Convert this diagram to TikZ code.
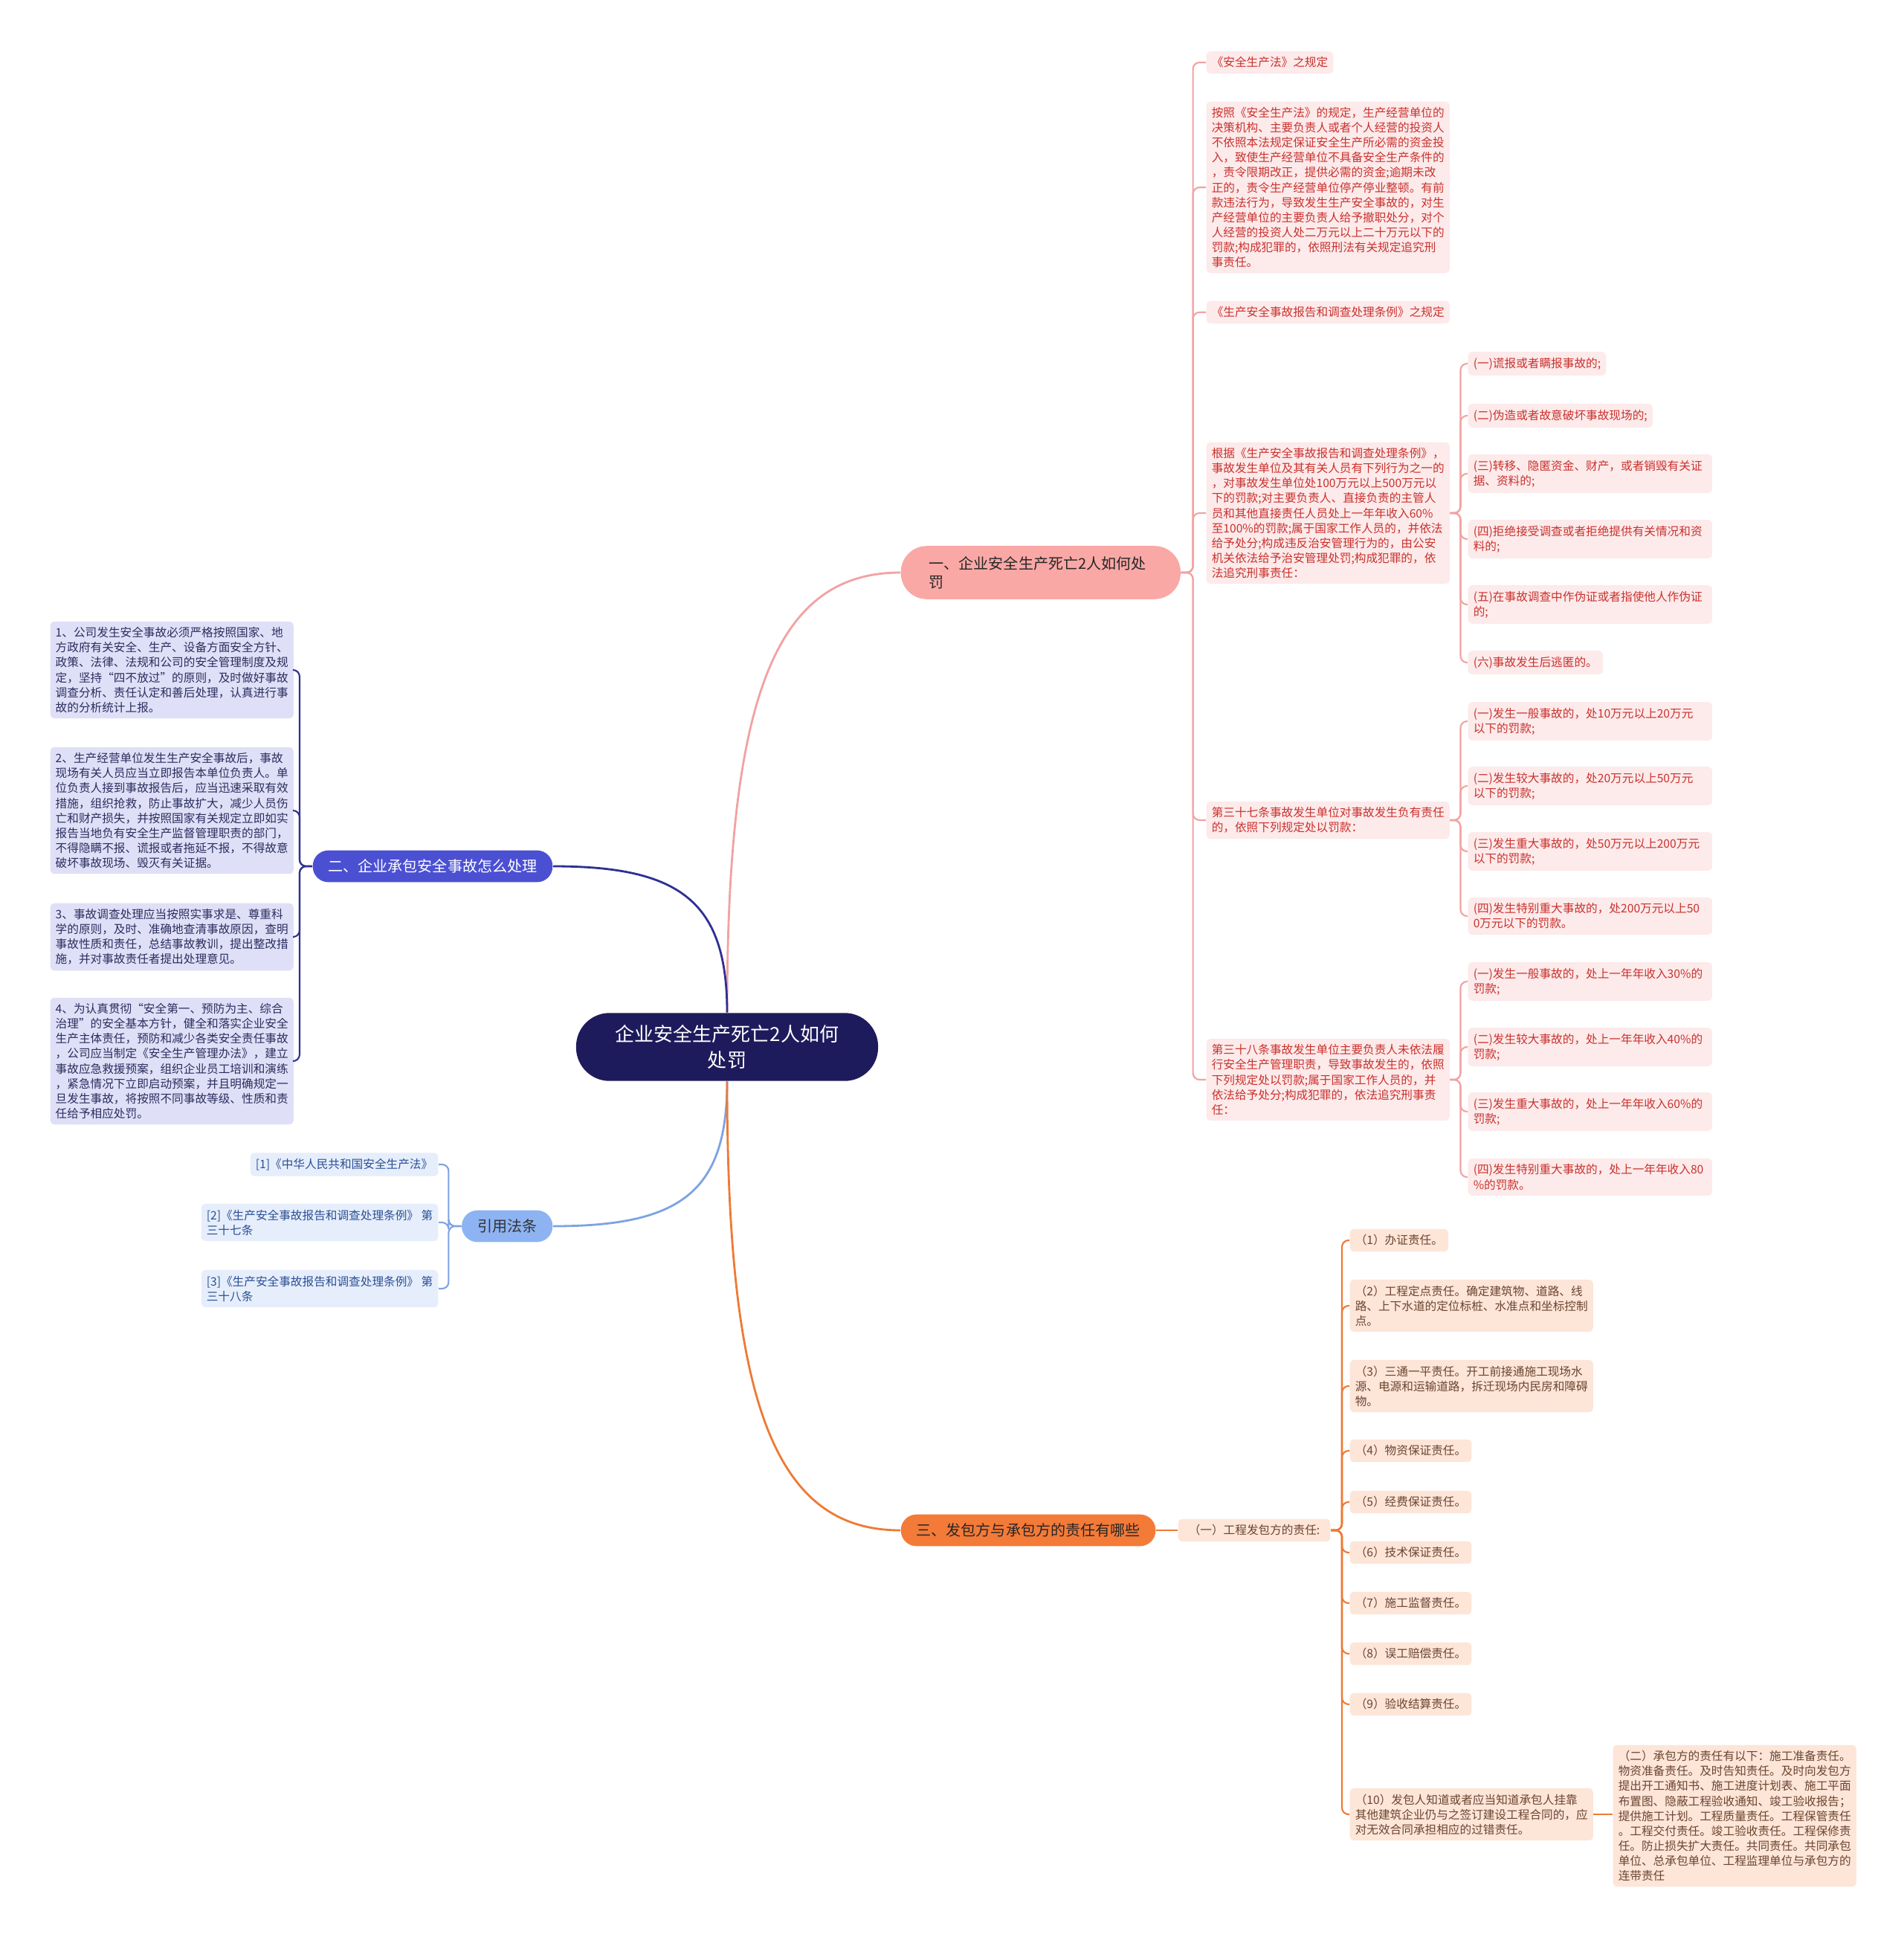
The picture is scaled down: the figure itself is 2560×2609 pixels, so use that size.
\documentclass[tikz,border=0pt]{standalone}
\usepackage{fontspec}
\setmainfont{Noto Sans CJK SC}
\usepackage{tikz}
\usetikzlibrary{positioning}
\definecolor{ctrfill}{HTML}{1E1B5C}
\definecolor{pinkmain}{HTML}{F9A8A6}
\definecolor{pinkline}{HTML}{F2A2A2}
\definecolor{pinkfill}{HTML}{FDEAEA}
\definecolor{pinktext}{HTML}{C8322E}
\definecolor{bluemain}{HTML}{4B50D3}
\definecolor{blueline}{HTML}{2E3192}
\definecolor{bluefill}{HTML}{DFE0F7}
\definecolor{bluetext}{HTML}{2B2D5E}
\definecolor{refmain}{HTML}{8DB3F2}
\definecolor{refline}{HTML}{7DA3E3}
\definecolor{reffill}{HTML}{E6EEFC}
\definecolor{reftext}{HTML}{2B4F94}
\definecolor{orgmain}{HTML}{F47A38}
\definecolor{orgline}{HTML}{EE7A35}
\definecolor{orgfill}{HTML}{FDE5D8}
\definecolor{orgtext}{HTML}{6B4530}

\begin{document}
\begin{tikzpicture}[
    x=0.01cm, y=-0.01cm,
    leaf/.style={rectangle, rounded corners=1.5pt, inner xsep=2pt, inner ysep=2.2pt, align=left, font=\fontsize{4.45pt}{5.7pt}\selectfont},
    pinkleaf/.style={leaf, fill=pinkfill, text=pinktext, anchor=west},
    pinkwide/.style={pinkleaf, text width=3.14cm},
    blueleaf/.style={leaf, fill=bluefill, text=bluetext, anchor=west},
    refleaf/.style={leaf, fill=reffill, text=reftext, anchor=east},
    orgleaf/.style={leaf, fill=orgfill, text=orgtext, anchor=west},
    branch/.style={rectangle, rounded corners=0.21cm, inner xsep=0.21cm, inner ysep=0.12cm, font=\fontsize{5.7pt}{7.1pt}\selectfont},
    link/.style={line width=0.8pt},
    bracket/.style={line width=0.6pt, rounded corners=2.5pt}
]
    \path[fill=white] (0,0) rectangle (2560,2609);
    \useasboundingbox (0,0) rectangle (2560,2609);

    % 中心主题
    \node[rectangle, rounded corners=0.45cm, fill=ctrfill, text=white, align=center, text width=3.1cm,
          inner xsep=0.48cm, inner ysep=0.16cm, font=\fontsize{7.4pt}{10pt}\selectfont] (ctr) at (978,1408)
          {企业安全生产死亡2人如何\\处罚};

    % 一级分支
    \node[branch, fill=pinkmain, text=black!85, anchor=west, text width=3cm, align=left,
          inner xsep=0.38cm, inner ysep=0.14cm, rounded corners=0.35cm] (b1) at (1211,770)
          {一、企业安全生产死亡2人如何处\\罚};
    \node[branch, fill=bluemain, text=white, anchor=east] (b2) at (744,1165) {二、企业承包安全事故怎么处理};
    \node[branch, fill=refmain, text=black!80, anchor=east] (refn) at (744,1649) {引用法条};
    \node[branch, fill=orgmain, text=black!85, anchor=west] (b3) at (1211,2058) {三、发包方与承包方的责任有哪些};

    \draw[link, pinkline] (ctr.north) .. controls +(0,-420) and +(-170,0) .. (b1.west);
    \draw[link, blueline] (ctr.north) .. controls +(0,-150) and +(170,0) .. (b2.east);
    \draw[link, refline] (ctr.south) .. controls +(0,150) and +(170,0) .. (refn.east);
    \draw[link, orgline] (ctr.south) .. controls +(0,430) and +(-170,0) .. (b3.west);

    % 一、处罚规定
    \node[pinkleaf] (c1) at (1622,84) {《安全生产法》之规定};
    \node[pinkleaf] (c2) at (1622,252) {按照《安全生产法》的规定，生产经营单位的\\决策机构、主要负责人或者个人经营的投资人\\不依照本法规定保证安全生产所必需的资金投\\入，致使生产经营单位不具备安全生产条件的\\，责令限期改正，提供必需的资金;逾期未改\\正的，责令生产经营单位停产停业整顿。有前\\款违法行为，导致发生生产安全事故的，对生\\产经营单位的主要负责人给予撤职处分，对个\\人经营的投资人处二万元以上二十万元以下的\\罚款;构成犯罪的，依照刑法有关规定追究刑\\事责任。};
    \node[pinkleaf] (c3) at (1622,420) {《生产安全事故报告和调查处理条例》之规定};
    \node[pinkleaf] (c4) at (1622,690) {根据《生产安全事故报告和调查处理条例》，\\事故发生单位及其有关人员有下列行为之一的\\，对事故发生单位处100万元以上500万元以\\下的罚款;对主要负责人、直接负责的主管人\\员和其他直接责任人员处上一年年收入60\%\\至100\%的罚款;属于国家工作人员的，并依法\\给予处分;构成违反治安管理行为的，由公安\\机关依法给予治安管理处罚;构成犯罪的，依\\法追究刑事责任：};
    \node[pinkleaf] (c5) at (1622,1103) {第三十七条事故发生单位对事故发生负有责任\\的，依照下列规定处以罚款：};
    \node[pinkleaf] (c6) at (1622,1452) {第三十八条事故发生单位主要负责人未依法履\\行安全生产管理职责，导致事故发生的，依照\\下列规定处以罚款;属于国家工作人员的，并\\依法给予处分;构成犯罪的，依法追究刑事责\\任：};

    \node[pinkleaf] (k1) at (1974,489) {(一)谎报或者瞒报事故的;};
    \node[pinkleaf] (k2) at (1974,559) {(二)伪造或者故意破坏事故现场的;};
    \node[pinkwide] (k3) at (1974,637) {(三)转移、隐匿资金、财产，或者销毁有关证\\据、资料的;};
    \node[pinkwide] (k4) at (1974,725) {(四)拒绝接受调查或者拒绝提供有关情况和资\\料的;};
    \node[pinkwide] (k5) at (1974,813) {(五)在事故调查中作伪证或者指使他人作伪证\\的;};
    \node[pinkleaf] (k6) at (1974,891) {(六)事故发生后逃匿的。};

    \node[pinkwide] (m1) at (1974,970) {(一)发生一般事故的，处10万元以上20万元\\以下的罚款;};
    \node[pinkwide] (m2) at (1974,1057) {(二)发生较大事故的，处20万元以上50万元\\以下的罚款;};
    \node[pinkwide] (m3) at (1974,1145) {(三)发生重大事故的，处50万元以上200万元\\以下的罚款;};
    \node[pinkwide] (m4) at (1974,1232) {(四)发生特别重大事故的，处200万元以上50\\0万元以下的罚款。};

    \node[pinkwide] (n1) at (1974,1320) {(一)发生一般事故的，处上一年年收入30\%的\\罚款;};
    \node[pinkwide] (n2) at (1974,1408) {(二)发生较大事故的，处上一年年收入40\%的\\罚款;};
    \node[pinkwide] (n3) at (1974,1495) {(三)发生重大事故的，处上一年年收入60\%的\\罚款;};
    \node[pinkwide] (n4) at (1974,1583) {(四)发生特别重大事故的，处上一年年收入80\\\%的罚款。};

    \draw[bracket, pinkline] (b1.east) -- ++(16,0) |- (c1.west);
    \draw[bracket, pinkline] (b1.east) -- ++(16,0) |- (c2.west);
    \draw[bracket, pinkline] (b1.east) -- ++(16,0) |- (c3.west);
    \draw[bracket, pinkline] (b1.east) -- ++(16,0) |- (c4.west);
    \draw[bracket, pinkline] (b1.east) -- ++(16,0) |- (c5.west);
    \draw[bracket, pinkline] (b1.east) -- ++(16,0) |- (c6.west);
    \draw[bracket, pinkline] (c4.east) -- ++(14,0) |- (k1.west);
    \draw[bracket, pinkline] (c4.east) -- ++(14,0) |- (k2.west);
    \draw[bracket, pinkline] (c4.east) -- ++(14,0) |- (k3.west);
    \draw[bracket, pinkline] (c4.east) -- ++(14,0) |- (k4.west);
    \draw[bracket, pinkline] (c4.east) -- ++(14,0) |- (k5.west);
    \draw[bracket, pinkline] (c4.east) -- ++(14,0) |- (k6.west);
    \draw[bracket, pinkline] (c5.east) -- ++(14,0) |- (m1.west);
    \draw[bracket, pinkline] (c5.east) -- ++(14,0) |- (m2.west);
    \draw[bracket, pinkline] (c5.east) -- ++(14,0) |- (m3.west);
    \draw[bracket, pinkline] (c5.east) -- ++(14,0) |- (m4.west);
    \draw[bracket, pinkline] (c6.east) -- ++(14,0) |- (n1.west);
    \draw[bracket, pinkline] (c6.east) -- ++(14,0) |- (n2.west);
    \draw[bracket, pinkline] (c6.east) -- ++(14,0) |- (n3.west);
    \draw[bracket, pinkline] (c6.east) -- ++(14,0) |- (n4.west);

    % 二、事故处理
    \node[blueleaf] (l1) at (67,901) {1、公司发生安全事故必须严格按照国家、地\\方政府有关安全、生产、设备方面安全方针、\\政策、法律、法规和公司的安全管理制度及规\\定，坚持“四不放过”的原则，及时做好事故\\调查分析、责任认定和善后处理，认真进行事\\故的分析统计上报。};
    \node[blueleaf] (l2) at (67,1090) {2、生产经营单位发生生产安全事故后，事故\\现场有关人员应当立即报告本单位负责人。单\\位负责人接到事故报告后，应当迅速采取有效\\措施，组织抢救，防止事故扩大，减少人员伤\\亡和财产损失，并按照国家有关规定立即如实\\报告当地负有安全生产监督管理职责的部门，\\不得隐瞒不报、谎报或者拖延不报，不得故意\\破坏事故现场、毁灭有关证据。};
    \node[blueleaf] (l3) at (67,1260) {3、事故调查处理应当按照实事求是、尊重科\\学的原则，及时、准确地查清事故原因，查明\\事故性质和责任，总结事故教训，提出整改措\\施，并对事故责任者提出处理意见。};
    \node[blueleaf] (l4) at (67,1427) {4、为认真贯彻“安全第一、预防为主、综合\\治理”的安全基本方针，健全和落实企业安全\\生产主体责任，预防和减少各类安全责任事故\\，公司应当制定《安全生产管理办法》，建立\\事故应急救援预案，组织企业员工培训和演练\\，紧急情况下立即启动预案，并且明确规定一\\旦发生事故，将按照不同事故等级、性质和责\\任给予相应处罚。};

    \draw[bracket, blueline] (b2.west) -- ++(-17,0) |- (l1.east);
    \draw[bracket, blueline] (b2.west) -- ++(-17,0) |- (l2.east);
    \draw[bracket, blueline] (b2.west) -- ++(-17,0) |- (l3.east);
    \draw[bracket, blueline] (b2.west) -- ++(-17,0) |- (l4.east);

    % 引用法条
    \node[refleaf] (r1) at (590,1566) {[1]《中华人民共和国安全生产法》};
    \node[refleaf] (r2) at (590,1644) {[2]《生产安全事故报告和调查处理条例》 第\\三十七条};
    \node[refleaf] (r3) at (590,1733) {[3]《生产安全事故报告和调查处理条例》 第\\三十八条};

    \draw[bracket, refline] (refn.west) -- ++(-17,0) |- (r1.east);
    \draw[bracket, refline] (refn.west) -- ++(-17,0) |- (r2.east);
    \draw[bracket, refline] (refn.west) -- ++(-17,0) |- (r3.east);

    % 三、发包方与承包方
    \node[orgleaf, inner xsep=4pt] (o0) at (1584,2058) {（一）工程发包方的责任:};
    \draw[link, orgline] (b3.east) -- (o0.west);

    \node[orgleaf] (p1) at (1815,1668) {（1）办证责任。};
    \node[orgleaf] (p2) at (1815,1756) {（2）工程定点责任。确定建筑物、道路、线\\路、上下水道的定位标桩、水准点和坐标控制\\点。};
    \node[orgleaf] (p3) at (1815,1864) {（3）三通一平责任。开工前接通施工现场水\\源、电源和运输道路，拆迁现场内民房和障碍\\物。};
    \node[orgleaf] (p4) at (1815,1951) {（4）物资保证责任。};
    \node[orgleaf] (p5) at (1815,2020) {（5）经费保证责任。};
    \node[orgleaf] (p6) at (1815,2088) {（6）技术保证责任。};
    \node[orgleaf] (p7) at (1815,2156) {（7）施工监督责任。};
    \node[orgleaf] (p8) at (1815,2224) {（8）误工赔偿责任。};
    \node[orgleaf] (p9) at (1815,2292) {（9）验收结算责任。};
    \node[orgleaf] (p10) at (1815,2440) {（10）发包人知道或者应当知道承包人挂靠\\其他建筑企业仍与之签订建设工程合同的，应\\对无效合同承担相应的过错责任。};
    \node[orgleaf] (q1) at (2169,2442) {（二）承包方的责任有以下：施工准备责任。\\物资准备责任。及时告知责任。及时向发包方\\提出开工通知书、施工进度计划表、施工平面\\布置图、隐蔽工程验收通知、竣工验收报告；\\提供施工计划。工程质量责任。工程保管责任\\。工程交付责任。竣工验收责任。工程保修责\\任。防止损失扩大责任。共同责任。共同承包\\单位、总承包单位、工程监理单位与承包方的\\连带责任};

    \draw[bracket, orgline] (o0.east) -- ++(15,0) |- (p1.west);
    \draw[bracket, orgline] (o0.east) -- ++(15,0) |- (p2.west);
    \draw[bracket, orgline] (o0.east) -- ++(15,0) |- (p3.west);
    \draw[bracket, orgline] (o0.east) -- ++(15,0) |- (p4.west);
    \draw[bracket, orgline] (o0.east) -- ++(15,0) |- (p5.west);
    \draw[bracket, orgline] (o0.east) -- ++(15,0) |- (p6.west);
    \draw[bracket, orgline] (o0.east) -- ++(15,0) |- (p7.west);
    \draw[bracket, orgline] (o0.east) -- ++(15,0) |- (p8.west);
    \draw[bracket, orgline] (o0.east) -- ++(15,0) |- (p9.west);
    \draw[bracket, orgline] (o0.east) -- ++(15,0) |- (p10.west);
    \draw[bracket, orgline] (p10.east) -- (p10.east -| q1.west);
\end{tikzpicture}
\end{document}
